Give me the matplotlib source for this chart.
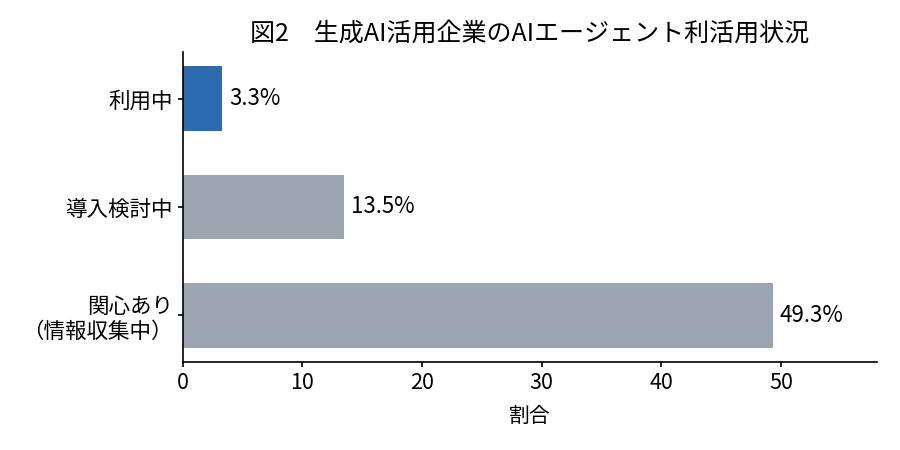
import matplotlib.pyplot as plt

plt.rcParams['font.family'] = ['Noto Sans CJK JP', 'DejaVu Sans']

# 下から順に（barhは下から描画）
categories = ['関心あり\n（情報収集中）', '導入検討中', '利用中']
values = [49.3, 13.5, 3.3]
colors = ['#9aa5b1', '#9aa5b1', '#2b6cb0']

fig = plt.figure(figsize=(9, 4.5), dpi=100)
ax = fig.add_axes([0.203, 0.196, 0.771, 0.688])

bars = ax.barh(categories, values, height=0.6, color=colors)
for bar, v in zip(bars, values):
    ax.text(v + 0.6, bar.get_y() + bar.get_height() / 2, f'{v:.1f}%',
            va='center', ha='left', fontsize=16)

ax.set_xlim(0, 58)
ax.set_xlabel('割合', fontsize=15, labelpad=8)
ax.set_title('図2　生成AI活用企業のAIエージェント利活用状況', fontsize=18, pad=8)
ax.tick_params(labelsize=15.5, width=1.2)
for s in ['left', 'bottom']:
    ax.spines[s].set_linewidth(1.2)
ax.spines['top'].set_visible(False)
ax.spines['right'].set_visible(False)

fig.savefig('out.png', dpi=100)
